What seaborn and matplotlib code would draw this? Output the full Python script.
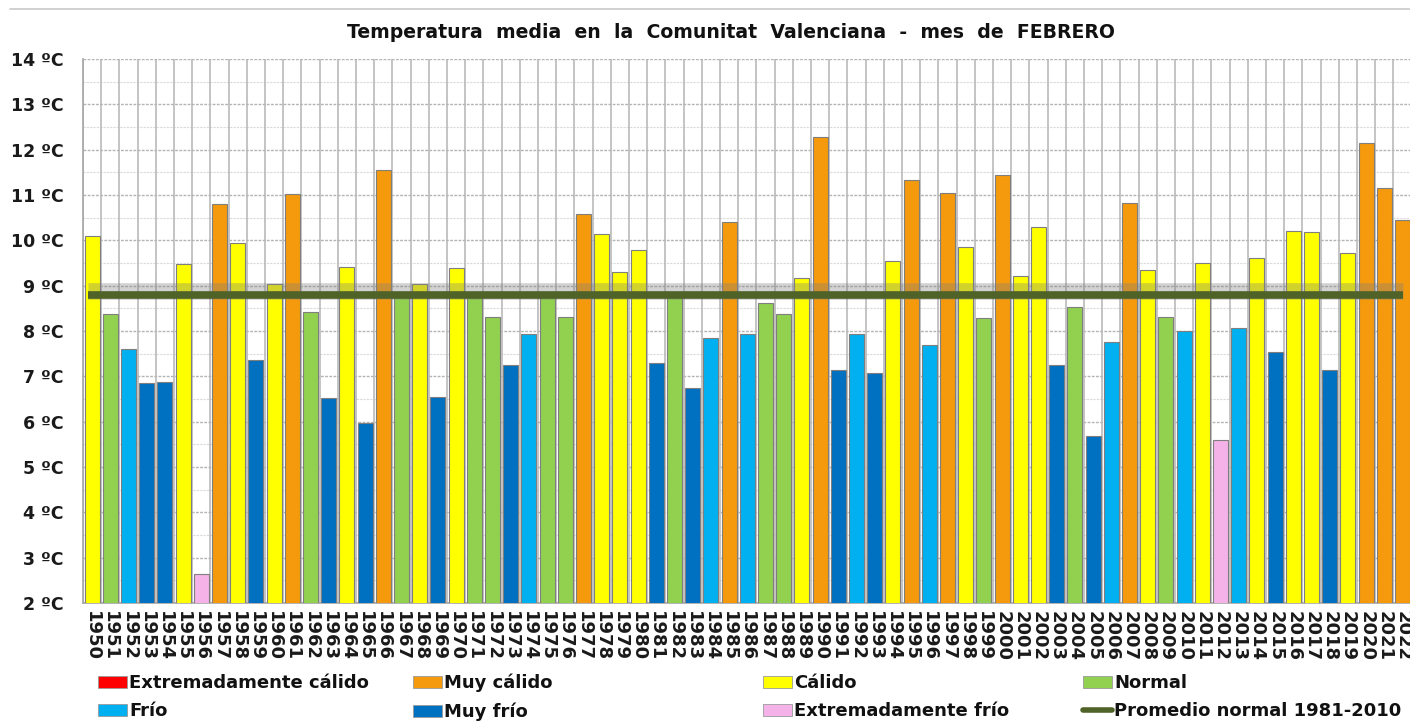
import numpy as np
import pandas as pd
import matplotlib
matplotlib.use("Agg")
import matplotlib.pyplot as plt
from matplotlib.patches import Patch
from matplotlib.lines import Line2D
import seaborn as sns

sns.set_theme(style="white")
plt.rcParams["font.family"] = ["DejaVu Sans"]

# datos
years = list(range(1950, 2023))
temps = [10.1, 8.37, 7.61, 6.85, 6.87, 9.48, 2.64, 10.81, 9.95, 7.37,
         9.03, 11.03, 8.42, 6.52, 9.41, 5.98, 11.56, 8.8, 9.03, 6.54,
         9.38, 8.8, 8.3, 7.25, 7.93, 8.8, 8.3, 10.59, 10.13, 9.31,
         9.78, 7.3, 8.8, 6.75, 7.85, 10.41, 7.93, 8.61, 8.38, 9.17,
         12.28, 7.13, 7.94, 7.07, 9.54, 11.33, 7.69, 11.05, 9.85, 8.28,
         11.44, 9.21, 10.3, 7.26, 8.54, 5.69, 7.75, 10.82, 9.35, 8.31,
         8.0, 9.51, 5.59, 8.07, 9.62, 7.54, 10.21, 10.19, 7.13, 9.73,
         12.14, 11.16, 10.44]
classes = ["C", "N", "F", "MF", "MF", "C", "EF", "MC", "C", "MF",
           "C", "MC", "N", "MF", "C", "MF", "MC", "N", "C", "MF",
           "C", "N", "N", "MF", "F", "N", "N", "MC", "C", "C",
           "C", "MF", "N", "MF", "F", "MC", "F", "N", "N", "C",
           "MC", "MF", "F", "MF", "C", "MC", "F", "MC", "C", "N",
           "MC", "C", "C", "MF", "N", "MF", "F", "MC", "C", "N",
           "F", "C", "EF", "F", "C", "MF", "C", "C", "MF", "C",
           "MC", "MC", "MC"]
normal_1981_2010 = 8.8

class_names = {
    "EC": "Extremadamente cálido",
    "MC": "Muy cálido",
    "C": "Cálido",
    "N": "Normal",
    "F": "Frío",
    "MF": "Muy frío",
    "EF": "Extremadamente frío",
}
class_colors = {
    "EC": "#ff0000",
    "MC": "#f59a0c",
    "C": "#ffff00",
    "N": "#92d050",
    "F": "#00b0f0",
    "MF": "#0070c0",
    "EF": "#f4b2e8",
}
line_color = "#4f6228"

df = pd.DataFrame({"year": [str(y) for y in years], "temp": temps, "cls": classes})

fig = plt.figure(figsize=(14.1, 7.27), dpi=100)
ax = fig.add_axes([83 / 1410, 1 - 603 / 727, 1 - 83 / 1410, (603 - 59) / 727])

sns.barplot(data=df, x="year", y="temp", hue="cls", palette=class_colors,
            saturation=1, dodge=False, width=0.82, edgecolor="#7f7f7f",
            linewidth=0.8, legend=False, ax=ax, zorder=3)

n = len(years)
ax.set_xlim(-0.5, n - 1 + 0.41)
ax.set_ylim(2, 14)

# rejilla
ax.set_axisbelow(True)
ax.set_yticks(np.arange(2, 15, 1))
ax.set_yticks(np.arange(2.5, 14, 1), minor=True)
ax.yaxis.grid(True, which="major", color="#b4b4b4", linestyle=(0, (2, 1)), linewidth=1)
ax.yaxis.grid(True, which="minor", color="#dadada", linestyle=(0, (2, 1)), linewidth=0.8)
for b in np.arange(-0.5, n, 1):
    ax.axvline(b, color="#b4b4b4", linewidth=1.1, zorder=1)

ax.set_yticklabels([f"{v} ºC" for v in range(2, 15)], fontsize=12.5, fontweight="bold",
                   color="#1a1a1a")
ax.set_xticks(range(n))
ax.set_xticklabels(df["year"], rotation=-90, fontsize=13, fontweight="bold",
                   color="#1a1a1a")
ax.tick_params(axis="x", which="major", length=0, pad=6)
ax.tick_params(axis="y", which="major", length=6, color="#a6a6a6", pad=8)
ax.tick_params(axis="y", which="minor", length=0)
ax.set_xlabel("")
ax.set_ylabel("")
for s in ["top", "right"]:
    ax.spines[s].set_visible(False)
for s in ["left", "bottom"]:
    ax.spines[s].set_color("#a6a6a6")
    ax.spines[s].set_linewidth(1.2)

# promedio normal con sombra
ax.hlines(normal_1981_2010 + 0.08, -0.2, n - 1, color="#808080", linewidth=12,
          alpha=0.35, zorder=4)
ax.hlines(normal_1981_2010, -0.2, n - 1, color=line_color, linewidth=5.5, zorder=5)

fig.text(731 / 1410, 1 - 33 / 727,
         "Temperatura  media  en  la  Comunitat  Valenciana  -  mes  de  FEBRERO",
         ha="center", va="center", fontsize=13.6, fontweight="bold", color="#111111")
fig.add_artist(Line2D([10 / 1410, 1], [1 - 9 / 727] * 2, color="#c8c8c8", linewidth=1.2))

# leyenda en cuatro columnas
columns = [("EC", "F"), ("MC", "MF"), ("C", "EF"), ("N", None)]
col_x = [98, 413, 763, 1083]
for (top, bottom), x0 in zip(columns, col_x):
    handles = [Patch(facecolor=class_colors[top], edgecolor="#9a9a9a", linewidth=0.6,
                     label=class_names[top])]
    if bottom is not None:
        handles.append(Patch(facecolor=class_colors[bottom], edgecolor="#9a9a9a",
                             linewidth=0.6, label=class_names[bottom]))
    else:
        handles.append(Line2D([], [], color=line_color, linewidth=4,
                              label="Promedio normal 1981-2010"))
    leg = fig.legend(handles=handles, loc="upper left",
                     bbox_to_anchor=(x0 / 1410, 1 - 674 / 727), frameon=False,
                     fontsize=13, handlelength=1.6, handleheight=0.65,
                     handletextpad=0.12, labelspacing=0.55, borderpad=0,
                     borderaxespad=0)
    for t in leg.get_texts():
        t.set_fontweight("bold")
        t.set_color("#111111")

fig.savefig("out.png", dpi=100, facecolor="white")
